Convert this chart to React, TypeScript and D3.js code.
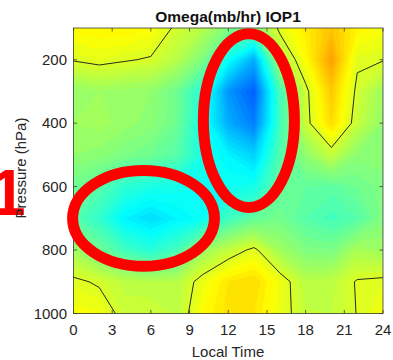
import React from 'react';
import * as d3 from 'd3';

// Local time (h) columns and pressure (hPa) rows of the omega field (mb/hr)
const times = [0, 2, 4, 6, 8, 10, 12, 14, 16, 18, 20, 22, 24];
const pressures = [100, 200, 300, 400, 500, 600, 700, 800, 900, 1000];
const omega100 = [0.7, 0.8, 0.8, 0.6, -0.15, -0.6, -1.5, -1.8, 0.2, 0.9, 1.6, 0.8, 0.5];
const omega200 = [0.05, 0.2, 0.06, -0.07, -0.6, -1.5, -3.5, -5.0, -0.9, 0.6, 2.2, 0.12, 0.04];
const omega300 = [-1.2, -1.0, -1.1, -1.2, -1.8, -3.0, -5.4, -6.3, -2.5, -0.2, 1.5, -0.17, -1.0];
const omega400 = [-1.0, -0.9, -1.1, -1.3, -1.8, -3.3, -5.0, -5.8, -2.6, -0.25, 1.2, -0.35, -1.2];
const omega500 = [-1.2, -1.3, -1.6, -1.8, -2.2, -3.2, -3.8, -4.4, -2.3, -1.2, -0.36, -1.3, -1.3];
const omega600 = [-1.8, -2.2, -2.9, -3.2, -3.3, -3.4, -3.4, -3.3, -2.0, -2.0, -2.1, -1.8, -1.5];
const omega700 = [-2.2, -2.8, -3.8, -4.2, -3.8, -3.5, -2.6, -2.0, -1.7, -2.2, -2.5, -2.2, -1.5];
const omega800 = [-0.9, -1.8, -2.6, -3.0, -2.5, -1.06, -0.41, 0.17, -0.96, -1.5, -1.6, -0.8, -1.0];
const omega900 = [0.15, -0.1, -0.5, -0.6, -0.6, 0.3, 1.0, 1.2, 0.37, -0.55, -0.5, 0.06, 0.15];
const omega1000 = [0.5, 0.45, -0.27, -0.2, -0.5, 0.6, 1.1, 1.0, 0.3, -0.37, -0.4, 0.02, 0.5];

const xTicks = [0, 3, 6, 9, 12, 15, 18, 21, 24];
const yTicks = [200, 400, 600, 800, 1000];
const colorLimits = [-10, 7];
const zeroLevel = [0];

// Annotation ellipses: [time, pressure, half-width (h), half-height (hPa)]
const ellipseCenters = [[5.43, 700], [13.6, 392]];
const ellipseRadii = [[5.5, 151], [3.53, 274]];

const W = 393, H = 360;
const left = 73.5, right = 383, top = 28, bottom = 313.5;
const font = '"Liberation Sans", Arial, Helvetica, sans-serif';
const txt = '#262626';

function jet(t: number) {
  const c = (x: number) => Math.max(0, Math.min(1, x));
  const r = c(1.5 - Math.abs(4 * t - 3));
  const g = c(1.5 - Math.abs(4 * t - 2));
  const b = c(1.5 - Math.abs(4 * t - 1));
  return d3.rgb(r * 255, g * 255, b * 255).formatHex();
}

export default function App() {
  const rows = [omega100, omega200, omega300, omega400, omega500, omega600, omega700, omega800, omega900, omega1000];
  const nx = times.length, ny = pressures.length;
  const values = rows.flat();

  const x = d3.scaleLinear().domain([0, 24]).range([left, right]);
  const y = d3.scaleLinear().domain([100, 1000]).range([top, bottom]);
  const color = d3.scaleSequential(jet).domain(colorLimits);

  // grid index -> data coordinate (value at index i sits at contour coordinate i + 0.5)
  const ix = d3.scaleLinear().domain([0, nx - 1]).range([times[0], times[nx - 1]]);
  const iy = d3.scaleLinear().domain([0, ny - 1]).range([pressures[0], pressures[ny - 1]]);
  const proj = d3.geoTransform({
    point(px: number, py: number) {
      // @ts-ignore
      this.stream.point(x(ix(px - 0.5)), y(iy(py - 0.5)));
    },
  });
  const path = d3.geoPath(proj);

  const step = 0.2;
  const thresholds = d3.range(colorLimits[0], colorLimits[1], step);
  const bands = d3.contours().size([nx, ny]).thresholds(thresholds)(values);
  const zero = d3.contours().size([nx, ny]).thresholds(zeroLevel)(values);

  const tickLen = 3.5;

  return (
    <svg width={W} height={H} style={{ position: 'absolute', left: 0, top: 0, background: '#fff' }}>
      <defs>
        <clipPath id="plotclip">
          <rect x={left} y={top} width={right - left} height={bottom - top} />
        </clipPath>
      </defs>
      <g clipPath="url(#plotclip)">
        {bands.map((b, i) => (
          <path key={i} d={path(b as any) || ''} fill={color(b.value + step / 2)} stroke={color(b.value + step / 2)} strokeWidth={0.3} />
        ))}
        {zero.map((b, i) => (
          <path key={'z' + i} d={path(b as any) || ''} fill="none" stroke="#2a2a1a" strokeWidth={1} />
        ))}
      </g>
      <rect x={left} y={top} width={right - left} height={bottom - top} fill="none" stroke="#3a3a3a" strokeWidth={0.8} />
      {xTicks.map((t) => (
        <g key={'xt' + t}>
          <line x1={x(t)} x2={x(t)} y1={bottom} y2={bottom - tickLen} stroke="#3a3a3a" strokeWidth={0.8} />
          <line x1={x(t)} x2={x(t)} y1={top} y2={top + tickLen} stroke="#3a3a3a" strokeWidth={0.8} />
          <text x={x(t)} y={335} textAnchor="middle" fontFamily={font} fontSize={15} fill={txt}>{t}</text>
        </g>
      ))}
      {yTicks.map((p) => (
        <g key={'yt' + p}>
          <line x1={left} x2={left + tickLen} y1={y(p)} y2={y(p)} stroke="#3a3a3a" strokeWidth={0.8} />
          <line x1={right} x2={right - tickLen} y1={y(p)} y2={y(p)} stroke="#3a3a3a" strokeWidth={0.8} />
          <text x={67} y={y(p) + 5.3} textAnchor="end" fontFamily={font} fontSize={15} fill={txt}>{p}</text>
        </g>
      ))}
      <text x={228} y={357} textAnchor="middle" fontFamily={font} fontSize={15} fill={txt}>Local Time</text>
      <text x={228} y={21.5} textAnchor="middle" fontFamily={font} fontSize={15.5} fontWeight="bold" fill="#111">Omega(mb/hr) IOP1</text>
      {ellipseCenters.map((c, i) => (
        <ellipse key={'e' + i} cx={x(c[0])} cy={y(c[1])}
          rx={x(ellipseRadii[i][0]) - x(0)} ry={y(100 + ellipseRadii[i][1]) - y(100)}
          fill="none" stroke="#ff0000" strokeWidth={11} />
      ))}
      <text x={-10} y={215} fontFamily={font} fontSize={64} fontWeight="bold" fill="#ff0000">1</text>
      <text transform={`translate(25.5,168) rotate(-90)`} textAnchor="middle" fontFamily={font} fontSize={15} fill={txt}>Pressure (hPa)</text>
    </svg>
  );
}
